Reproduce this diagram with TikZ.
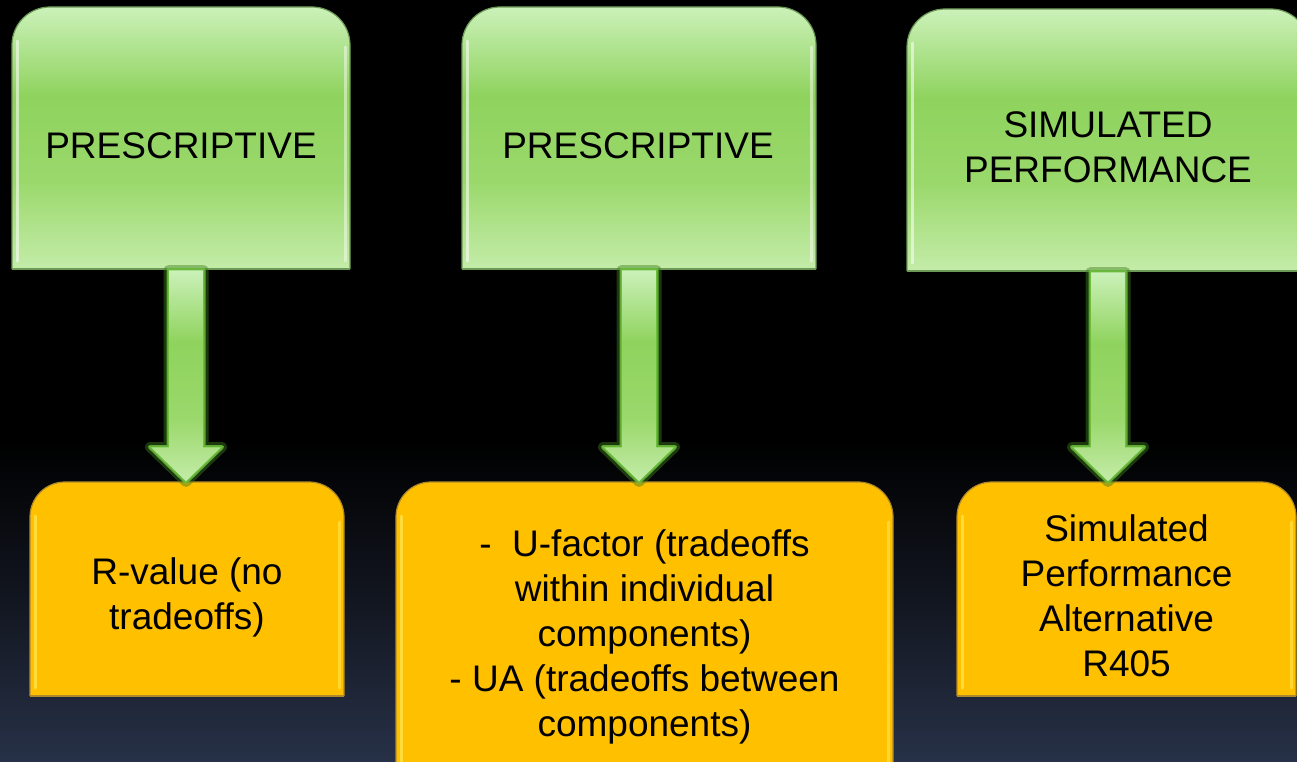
\documentclass[tikz,border=0pt]{standalone}
\usepackage{fontspec}
\setmainfont{Liberation Sans}
\usetikzlibrary{calc}
\definecolor{gT}{HTML}{CBF1B9}
\definecolor{gM}{HTML}{8FD35E}
\definecolor{gM2}{HTML}{9AD86B}
\definecolor{gB}{HTML}{C4ECA9}
\definecolor{gEdge}{HTML}{6E9A58}
\definecolor{glowA}{HTML}{3E7F1C}
\definecolor{glowB}{HTML}{6DBE3C}
\definecolor{orng}{HTML}{FFC000}
\definecolor{oEdge}{HTML}{B08A2A}
\definecolor{oHi}{HTML}{FFF36A}
\definecolor{bgM}{HTML}{121620}
\definecolor{bgB}{HTML}{273147}
\pgfdeclareverticalshading{greengloss}{100bp}{color(0bp)=(gB); color(25bp)=(gB); color(42bp)=(gM2); color(58bp)=(gM); color(75bp)=(gT); color(100bp)=(gT)}
\pgfdeclareverticalshading{arrowgloss}{100bp}{color(0bp)=(gB); color(25bp)=(gB); color(40bp)=(gM2); color(58bp)=(gM); color(75bp)=(gT); color(100bp)=(gT)}
\newcommand\topbox[5]{%
  \path[#2, rounded corners=#5] (#1.south west) -- (#1.north west) -- (#1.north east) -- (#1.south east);
  \draw[#4, line width=3pt, line cap=round, opacity=.55] ($(#1.north west)+(5,34)$) -- ($(#1.south west)+(5,-8)$);
  \draw[#4, line width=3pt, line cap=round, opacity=.45] ($(#1.north east)+(-5,40)$) -- ($(#1.south east)+(-5,-8)$);
  \draw[#3, line width=1.2pt, rounded corners=#5] (#1.south west) -- (#1.north west) -- (#1.north east) -- (#1.south east);
  \draw[#3, line width=1.2pt] (#1.south west) -- (#1.south east);
}
\newcommand\garrow[3]{%
  \coordinate (#1top) at ($(#1.south)+(#3,1)$);
  \coordinate (#1tip) at (#1top |- #2.north);
  \path[preaction={draw=glowA, line width=10pt, opacity=.45, line join=round},
        preaction={draw=glowB, line width=4pt, opacity=.85, line join=round},
        shading=arrowgloss, draw=glowB, line width=.8pt]
    ($(#1top)+(-17.5,0)$) -- ($(#1top)+(17.5,0)$) -- ($(#1tip)+(17.5,-35)$) -- ($(#1tip)+(36,-35)$)
    -- (#1tip) -- ($(#1tip)+(-36,-35)$) -- ($(#1tip)+(-17.5,-35)$) -- cycle;
}
\begin{document}
\begin{tikzpicture}[x=1pt,y=-1pt,
  boxnode/.style={inner sep=0pt, outer sep=0pt, draw=none},
  lbl/.style={font=\fontsize{37}{45}\selectfont, align=center, text=black, inner sep=0pt}]
\useasboundingbox (0,0) rectangle (1297,762);
\clip (0,0) rectangle (1297,762);
% background
\fill[black] (0,0) rectangle (1297,762);
\shade[top color=black, bottom color=bgM] (0,440) rectangle (1297,600);
\shade[top color=bgM, bottom color=bgB] (0,600) rectangle (1297,762);
% box placeholders
\node[boxnode, minimum width=338pt, minimum height=262pt] (g1) at (181,138) {};
\node[boxnode, minimum width=354pt, minimum height=262pt] (g2) at (639,138) {};
\node[boxnode, minimum width=402pt, minimum height=262pt] (g3) at (1108,140) {};
\node[boxnode, minimum width=314pt, minimum height=214pt] (o1) at (187,589) {};
\node[boxnode, minimum width=497pt, minimum height=338pt] (o2) at (644.5,651) {};
\node[boxnode, minimum width=339pt, minimum height=214pt] (o3) at (1126.5,589) {};
% green boxes
\topbox{g1}{shading=greengloss}{gEdge}{white}{38pt}
\topbox{g2}{shading=greengloss}{gEdge}{white}{38pt}
\topbox{g3}{shading=greengloss}{gEdge}{white}{38pt}
% orange boxes
\topbox{o1}{fill=orng}{oEdge}{oHi}{35pt}
\topbox{o2}{fill=orng}{oEdge}{oHi}{35pt}
\topbox{o3}{fill=orng}{oEdge}{oHi}{35pt}
% arrows
\garrow{g1}{o1}{5}
\garrow{g2}{o2}{0}
\garrow{g3}{o3}{0}
% texts
\node[lbl] (tg1) at (181,145.5) {PRESCRIPTIVE};
\node[lbl] (tg2) at (638,145.5) {PRESCRIPTIVE};
\node[lbl] (tg3) at (1108,147) {SIMULATED\\PERFORMANCE};
\node[lbl] (to1) at (187,597.5) {R-value (no\\tradeoffs)};
\node[lbl] (to2) at (644.5,637) {-\ \ U-factor (tradeoffs\\within individual\\components)\\- UA (tradeoffs between\\components)};
\node[lbl] (to3) at (1126.5,596) {Simulated\\Performance\\Alternative\\R405};
\end{tikzpicture}
\end{document}
